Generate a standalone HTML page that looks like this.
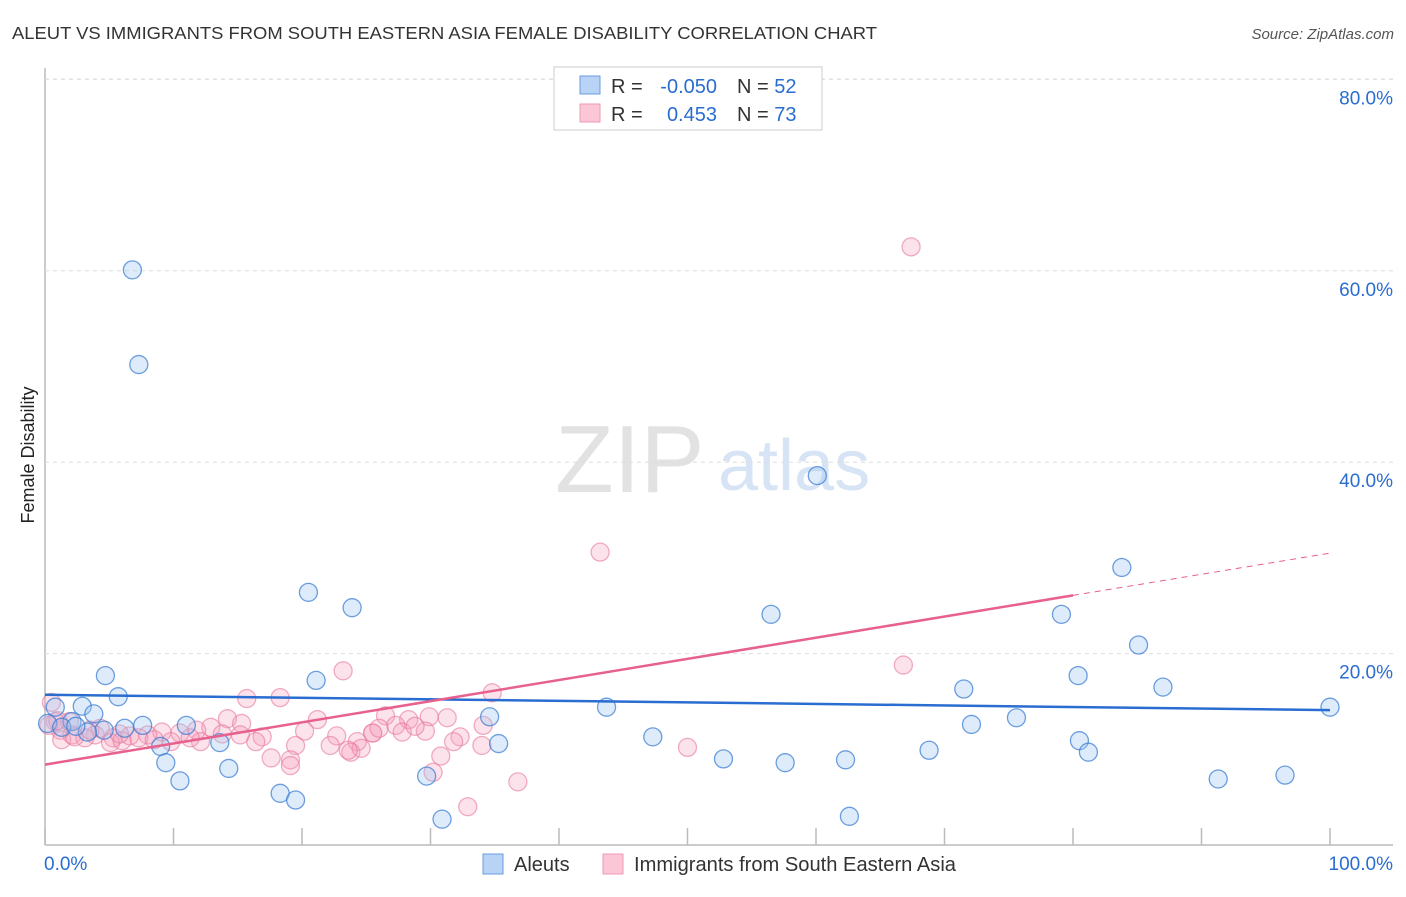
<!DOCTYPE html>
<html><head><meta charset="utf-8"><style>
body{margin:0;background:#fff;font-family:"Liberation Sans",sans-serif;}
svg text{font-family:"Liberation Sans",sans-serif;}
</style></head><body>
<svg id="c" width="1406" height="892">
<text x="12" y="39" font-size="17.5" fill="#333" textLength="865" lengthAdjust="spacingAndGlyphs">ALEUT VS IMMIGRANTS FROM SOUTH EASTERN ASIA FEMALE DISABILITY CORRELATION CHART</text>
<text x="1394" y="39" font-size="15" fill="#555" font-style="italic" text-anchor="end">Source: ZipAtlas.com</text>
<text x="555" y="492" font-size="96" fill="#e2e2e2" font-family="Liberation Serif,serif">ZIP</text>
<text x="718" y="490" font-size="72" fill="#d6e4f5">atlas</text>
<text transform="translate(34,455) rotate(-90)" font-size="18" fill="#222" text-anchor="middle">Female Disability</text>
<g id="grid"></g><g id="pts"></g><g id="lines"></g>
<g>
<rect x="554" y="67" width="268" height="63" fill="#fff" stroke="#ccc"/>
<rect x="580" y="76" width="20" height="18" fill="#b8d3f5" stroke="#6a9be0"/>
<rect x="580" y="104" width="20" height="18" fill="#fbc7d6" stroke="#ee9ab3"/>
<text x="611" y="93" font-size="20" fill="#333">R =</text>
<text x="717" y="93" font-size="20" fill="#2a6dd0" text-anchor="end">-0.050</text>
<text x="737" y="93" font-size="20" fill="#333">N = <tspan fill="#2a6dd0">52</tspan></text>
<text x="611" y="121" font-size="20" fill="#333">R =</text>
<text x="717" y="121" font-size="20" fill="#2a6dd0" text-anchor="end">0.453</text>
<text x="737" y="121" font-size="20" fill="#333">N = <tspan fill="#2a6dd0">73</tspan></text>
</g>
<rect x="483" y="854" width="20" height="20" fill="#b8d3f5" stroke="#6a9be0"/>
<text x="514" y="871" font-size="20" fill="#333">Aleuts</text>
<rect x="603" y="854" width="20" height="20" fill="#fbc7d6" stroke="#ee9ab3"/>
<text x="634" y="871" font-size="20" fill="#333" textLength="322" lengthAdjust="spacingAndGlyphs">Immigrants from South Eastern Asia</text>
<text x="44" y="870" font-size="19" fill="#2a6dd0">0.0%</text>
<text x="1393" y="870" font-size="19" fill="#2a6dd0" text-anchor="end">100.0%</text>
</svg>
<script>
const yTicks=[20,40,60,80];
const xTicks=[0,10,20,30,40,50,60,70,80,90,100];
const aleutX=[6.8,7.3,60.1,83.8,20.5,23.9,56.5,79.1,85.1,4.7,21.1,80.4,87.0,71.5,5.7,2.9,43.7,100,0.8,3.8,34.6,75.6,2.1,72.1,0.2,6.2,7.6,11.0,1.3,4.6,3.3,47.3,80.5,35.3,9.0,13.6,68.8,81.2,52.8,57.6,62.3,9.4,14.3,10.5,29.7,91.3,96.5,18.3,19.5,30.9,62.6,2.4];
const aleutY=[60.1,50.2,38.6,29.0,26.4,24.8,24.1,24.1,20.9,17.7,17.2,17.7,16.5,16.3,15.5,14.5,14.4,14.4,14.4,13.7,13.4,13.3,12.9,12.6,12.7,12.2,12.5,12.5,12.3,12.0,11.8,11.3,10.9,10.6,10.3,10.7,9.9,9.7,9.0,8.6,8.9,8.6,8.0,6.7,7.2,6.9,7.3,5.4,4.7,2.7,3.0,12.4];
const immX=[67.4,43.2,66.8,23.2,34.8,15.7,18.3,0.5,26.5,29.9,31.3,28.3,21.2,14.2,15.3,12.9,27.3,34.1,25.5,27.8,29.6,32.3,20.2,22.7,16.9,15.2,11.8,10.5,9.1,8.0,6.6,5.3,3.9,2.1,1.2,1.9,4.3,0.8,1.3,3.1,5.1,7.3,9.8,12.1,11.3,16.4,19.5,22.2,24.3,25.5,23.8,24.6,31.8,34.0,23.6,17.6,19.1,19.1,30.8,30.2,50.0,36.8,32.9,6.0,2.3,5.8,0.3,1.0,3.5,8.5,13.8,26.0,28.8];
const immY=[62.5,30.6,18.8,18.2,15.9,15.3,15.4,14.9,13.5,13.4,13.3,13.1,13.1,13.2,12.7,12.3,12.5,12.5,11.7,11.8,11.9,11.3,11.9,11.4,11.3,11.5,12.0,11.7,11.8,11.5,11.4,11.2,11.5,11.5,12.0,12.9,12.2,12.9,11.0,11.2,10.7,11.2,10.8,10.8,11.2,10.8,10.4,10.4,10.8,11.7,9.7,10.1,10.8,10.4,9.9,9.1,8.9,8.3,9.3,7.6,10.2,6.6,4.0,10.9,11.3,11.6,12.5,13.0,12.0,11.0,11.6,12.2,12.4];
const blueTrend=[15.7,14.1];
const pinkTrend=[8.4,30.5];
const pinkSolidEnd=80;
const sx=v=>45+v*12.85, sy=v=>845-v*9.57;
const NS='http://www.w3.org/2000/svg';
function mk(t,a,p){const e=document.createElementNS(NS,t);for(const k in a)e.setAttribute(k,a[k]);p.appendChild(e);return e;}
const grid=document.getElementById('grid'),pts=document.getElementById('pts'),lines=document.getElementById('lines');
mk('line',{x1:45,y1:845,x2:1393,y2:845,stroke:'#bbb','stroke-width':1.5},grid);
const yl=mk('line',{x1:45,y1:68,x2:45,y2:845,stroke:'#bbb','stroke-width':1.5},grid);


mk('line',{x1:45,y1:79,x2:1393,y2:79,stroke:'#ddd','stroke-dasharray':'4,4'},grid);
yTicks.forEach(t=>{
 const l=mk('line',{x1:45,y1:sy(t),x2:1393,y2:sy(t),stroke:'#ddd','stroke-dasharray':'4,4'},grid);
 
 
 const tx=mk('text',{x:1393,y:sy(t)+25,'font-size':19,fill:'#2a6dd0','text-anchor':'end'},grid);
 tx.textContent=t.toFixed(1)+'%';
 
 
});
xTicks.forEach(t=>{
 const l=mk('line',{x1:sx(t),y1:828,x2:sx(t),y2:845,stroke:'#bbb','stroke-width':1.5},grid);
 
 
});
immX.forEach((x,i)=>{
 const c=mk('circle',{cx:sx(x),cy:sy(immY[i]),r:9,fill:'rgba(246,160,188,0.3)',stroke:'rgba(232,120,155,0.6)','stroke-width':1.3},pts);
 
 
});
aleutX.forEach((x,i)=>{
 const c=mk('circle',{cx:sx(x),cy:sy(aleutY[i]),r:9,fill:'rgba(160,198,240,0.35)',stroke:'rgba(50,120,210,0.7)','stroke-width':1.3},pts);
 
 
});
const bt=mk('line',{x1:sx(0),y1:sy(blueTrend[0]),x2:sx(100),y2:sy(blueTrend[1]),stroke:'#2a6dd0','stroke-width':2.5},lines);


const pe=pinkTrend[0]+(pinkTrend[1]-pinkTrend[0])*pinkSolidEnd/100;
const pt=mk('line',{x1:sx(0),y1:sy(pinkTrend[0]),x2:sx(pinkSolidEnd),y2:sy(pe),stroke:'#e8608c','stroke-width':2.5},lines);


const pd=mk('line',{x1:sx(pinkSolidEnd),y1:sy(pe),x2:sx(100),y2:sy(pinkTrend[1]),stroke:'#e8608c','stroke-width':1,'stroke-dasharray':'6,5'},lines);


</script>
</body></html>
